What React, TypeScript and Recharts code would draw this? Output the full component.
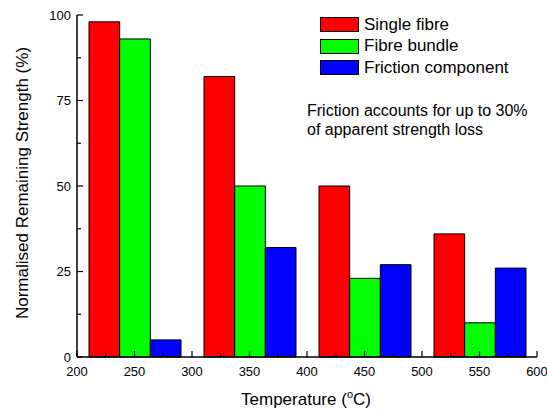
import React from 'react';
import { BarChart, Bar, XAxis, YAxis, Legend } from 'recharts';

// group centres on the temperature axis (°C)
const temperatures = [250, 350, 450, 550];
const singleFibre = [98, 82, 50, 36];
const fibreBundle = [93, 50, 23, 10];
const frictionComponent = [5, 32, 27, 26];

const xTicks = [200, 225, 250, 275, 300, 325, 350, 375, 400, 425, 450, 475, 500, 525, 550, 575, 600];
const yTicks = [0, 12.5, 25, 37.5, 50, 62.5, 75, 87.5, 100];

const series = [
  { key: 'single', name: 'Single fibre', color: '#FF0000' },
  { key: 'bundle', name: 'Fibre bundle', color: '#00FF00' },
  { key: 'friction', name: 'Friction component', color: '#0000FF' },
];

const data = temperatures.map((t, i) => ({
  temp: t,
  single: singleFibre[i],
  bundle: fibreBundle[i],
  friction: frictionComponent[i],
}));

const FONT = 'Arial, "Liberation Sans", sans-serif';

const XTick = (props: any) => {
  const { x, y, payload } = props;
  const v = payload.value;
  const major = v % 50 === 0;
  return (
    <g>
      <line x1={x} x2={x} y1={y} y2={y - (major ? 6 : 4)} stroke="#000" strokeWidth={1.2} />
      {major && (
        <text x={x} y={y + 19} textAnchor="middle" fontSize={13} fontFamily={FONT} fill="#000">
          {v}
        </text>
      )}
    </g>
  );
};

const YTick = (props: any) => {
  const { x, y, payload } = props;
  const v = payload.value;
  const major = v % 25 === 0;
  return (
    <g>
      <line x1={x} x2={x + (major ? 6 : 4)} y1={y} y2={y} stroke="#000" strokeWidth={1.2} />
      {major && (
        <text x={x - 6} y={y + 4.5} textAnchor="end" fontSize={13} fontFamily={FONT} fill="#000">
          {v}
        </text>
      )}
    </g>
  );
};

const XLabel = () => (
  <text x={306} y={405} textAnchor="middle" fontSize={17} fontFamily={FONT} fill="#000">
    Temperature (
    <tspan fontSize={11} dy={-7}>o</tspan>
    <tspan dy={7}>C)</tspan>
  </text>
);

const YLabel = () => (
  <text
    x={22}
    y={183}
    transform="rotate(-90, 22, 183)"
    textAnchor="middle"
    dominantBaseline="central"
    fontSize={17}
    fontFamily={FONT}
    fill="#000"
  >
    Normalised Remaining Strength (%)
  </text>
);

const renderLegend = () => (
  <div style={{ fontFamily: FONT, fontSize: 17, color: '#000' }}>
    {series.map((s) => (
      <div key={s.key} style={{ display: 'flex', alignItems: 'center', height: 21.5 }}>
        <div
          style={{
            width: 39,
            height: 15,
            boxSizing: 'border-box',
            background: s.color,
            border: '1px solid #000',
            marginRight: 5,
          }}
        />
        <span>{s.name}</span>
      </div>
    ))}
  </div>
);

export default function App() {
  return (
    <div style={{ position: 'absolute', left: 0, top: 0, width: 547, height: 412, background: '#fff' }}>
      <BarChart
        width={547}
        height={412}
        data={data}
        margin={{ top: 15, right: 10, left: 17, bottom: 10 }}
        barGap={0}
        barCategoryGap="10%"
      >
        {series.map((s) => (
          <Bar
            key={s.key}
            dataKey={s.key}
            name={s.name}
            fill={s.color}
            stroke="#000"
            strokeWidth={1}
            barSize={92 / 3}
            isAnimationActive={false}
          />
        ))}
        <XAxis
          dataKey="temp"
          type="number"
          domain={[200, 600]}
          ticks={xTicks}
          tickCount={5}
          interval={0}
          height={45}
          tickSize={0}
          tickMargin={0}
          tickLine={false}
          axisLine={{ stroke: '#000', strokeWidth: 1.5 }}
          tick={<XTick />}
          label={<XLabel />}
        />
        <YAxis
          type="number"
          domain={[0, 100]}
          ticks={yTicks}
          interval={0}
          width={60}
          tickSize={0}
          tickMargin={0}
          tickLine={false}
          axisLine={{ stroke: '#000', strokeWidth: 1.5 }}
          tick={<YTick />}
          label={<YLabel />}
        />
        <Legend
          layout="horizontal"
          verticalAlign="middle"
          align="center"
          content={renderLegend}
          wrapperStyle={{ left: 320, top: 14, width: 'auto', bottom: 'auto' }}
        />
      </BarChart>
      <div
        style={{
          position: 'absolute',
          left: 307,
          top: 101,
          fontFamily: FONT,
          fontSize: 16,
          lineHeight: '19px',
          color: '#000',
          whiteSpace: 'nowrap',
        }}
      >
        Friction accounts for up to 30%
        <br />
        of apparent strength loss
      </div>
    </div>
  );
}
